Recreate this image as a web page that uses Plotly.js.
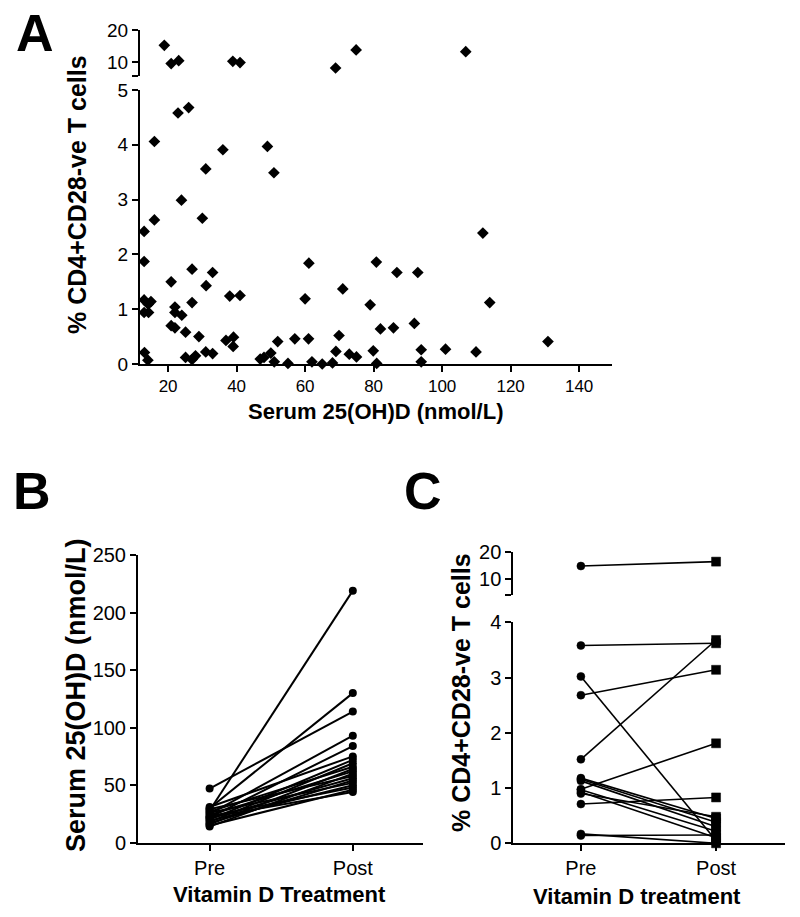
<!DOCTYPE html>
<html>
<head>
<meta charset="utf-8">
<script src="https://cdn.plot.ly/plotly-3.0.1.min.js"></script>
<style>html,body{margin:0;padding:0;background:#fff;}#plot{width:800px;height:917px;}</style>
</head>
<body>
<div id="plot"></div>
<script>
// Panel A: serum 25(OH)D vs % CD4+CD28-ve T cells
const aVitD = [18.9,20.9,23.1,38.9,41.0,68.9,74.9,106.9,
  16.0,22.9,26.0,31.0,36.0,49.0,50.9,
  23.9,13.0,16.0,30.0,
  13.0,20.9,27.0,33.0,31.1,38.0,41.0,61.1,60.0,71.0,80.8,86.8,92.9,79.0,111.9,113.9,
  13.0,15.0,14.2,13.0,14.3,22.0,22.0,27.0,
  20.9,22.0,24.0,25.1,29.0,36.9,39.1,39.0,
  82.0,85.8,91.9,
  13.1,14.1,25.1,27.0,28.0,31.0,33.0,
  46.9,48.0,50.0,51.0,52.0,55.0,57.0,61.0,62.0,65.0,68.0,69.0,69.9,72.9,75.0,79.9,80.9,
  93.9,101.0,109.9,93.9,130.9];
const aCells = [15.2,9.5,10.4,10.2,9.8,8.1,13.75,13.2,
  4.06,4.58,4.68,3.56,3.91,3.97,3.49,
  2.99,2.42,2.63,2.66,
  1.87,1.50,1.73,1.67,1.43,1.24,1.25,1.84,1.19,1.37,1.86,1.67,1.67,1.08,2.39,1.12,
  1.17,1.14,1.09,0.94,0.94,1.04,0.94,1.12,
  0.70,0.66,0.89,0.58,0.50,0.43,0.49,0.32,
  0.64,0.66,0.74,
  0.21,0.07,0.12,0.08,0.15,0.22,0.19,
  0.09,0.12,0.20,0.04,0.41,0.01,0.46,0.46,0.04,0.00,0.02,0.23,0.52,0.18,0.13,0.24,0.01,
  0.26,0.27,0.22,0.04,0.41];
const aXTicks = [20,40,60,80,100,120,140];
const aYTicksLow = [0,1,2,3,4,5];
const aYTicksHigh = [10,20];

// Panel B: serum 25(OH)D before/after vitamin D treatment
const bCategories = ['Pre','Post'];
const bPre  = [28,30,47,25,22,31,20,18,27,16,24,14,29,21,17,26,19,23,15,22];
const bPost = [219,130,114,93,84,75,72,69,66,64,62,60,58,56,54,52,50,48,46,44];
const bYTicks = [0,50,100,150,200,250];

// Panel C: % CD4+CD28-ve T cells before/after vitamin D treatment
const cCategories = ['Pre','Post'];
const cPre  = [14.8,3.58,1.52,2.68,3.02,0.98,0.71,0.14,0.17,1.18,1.16,1.13,0.97,0.93,0.90];
const cPost = [16.4,3.62,3.68,3.14,0.05,1.81,0.83,0.15,0.00,0.45,0.38,0.30,0.22,0.10,0.48];
const cYTicksLow = [0,1,2,3,4];
const cYTicksHigh = [10,20];

const FONT = 'Liberation Sans, Arial, sans-serif';
const BLACK = '#000';
const traces = [];

// A: split points between the broken-axis segments
const lowX=[],lowY=[],hiX=[],hiY=[];
aVitD.forEach((v,i)=>{ if(aCells[i]>5){hiX.push(v);hiY.push(aCells[i]);} else {lowX.push(v);lowY.push(aCells[i]);} });
const diamond = {symbol:'diamond', size:9, color:BLACK, opacity:1, line:{width:0}};
traces.push({type:'scatter',mode:'markers',x:lowX,y:lowY,xaxis:'x',yaxis:'y',marker:diamond,cliponaxis:false,showlegend:false});
traces.push({type:'scatter',mode:'markers',x:hiX,y:hiY,xaxis:'x',yaxis:'y2',marker:diamond,cliponaxis:false,showlegend:false});

// B
bPre.forEach((p,i)=>{
  traces.push({type:'scatter',mode:'lines+markers',x:[0,1],y:[p,bPost[i]],xaxis:'x2',yaxis:'y3',
    line:{color:BLACK,width:2},marker:{symbol:'circle',size:8,color:BLACK,opacity:1,line:{width:0}},cliponaxis:false,showlegend:false});
});

// C
cPre.forEach((p,i)=>{
  const q=cPost[i];
  const ya = (p>4 && q>4) ? 'y5' : 'y4';
  traces.push({type:'scatter',mode:'lines+markers',x:[0,1],y:[p,q],xaxis:'x3',yaxis:ya,opacity:1,
    line:{color:BLACK,width:1.6},marker:{symbol:['circle','square'],size:[8,9],color:BLACK,opacity:1,line:{color:BLACK,width:0.5}},
    cliponaxis:false,showlegend:false});
});

const H=917, W=800;
const fy = py => 1 - py/H;
const fx = px => px/W;
const axBase = {showline:true,linecolor:BLACK,linewidth:2,ticks:'outside',ticklen:6,tickwidth:2,tickcolor:BLACK,
  showgrid:false,zeroline:false,fixedrange:true,tickfont:{family:FONT,size:19,color:BLACK}};
const ann = (text,px,py,size,angle)=>({text:text,x:fx(px),y:fy(py),xref:'paper',yref:'paper',xanchor:'center',yanchor:'middle',
  showarrow:false,textangle:angle||0,font:{family:FONT,size:size,color:BLACK}});

const layout = {
  width:W,height:H,margin:{l:0,r:0,t:0,b:0},paper_bgcolor:'#fff',plot_bgcolor:'rgba(0,0,0,0)',
  showlegend:false,font:{family:FONT,color:BLACK},
  xaxis:Object.assign({},axBase,{domain:[fx(140),fx(612)],range:[11.8,149.6],anchor:'y',tickmode:'array',tickvals:aXTicks,
    tickfont:{family:FONT,size:17,color:BLACK}}),
  yaxis:Object.assign({},axBase,{domain:[fy(364),fy(90)],range:[0,5],anchor:'x',tickmode:'array',tickvals:aYTicksLow}),
  yaxis2:Object.assign({},axBase,{domain:[fy(76),fy(30)],range:[5.6,20],anchor:'x',tickmode:'array',
    tickvals:[5.6].concat(aYTicksHigh),ticktext:[''].concat(aYTicksHigh.map(String))}),
  xaxis2:Object.assign({},axBase,{domain:[fx(138),fx(423)],range:[-0.5,1.49],anchor:'y3',tickmode:'array',tickvals:[0,1],ticktext:bCategories,
    tickfont:{family:FONT,size:20,color:BLACK}}),
  yaxis3:Object.assign({},axBase,{domain:[fy(842.7),fy(555)],range:[0,250],anchor:'x2',tickmode:'array',tickvals:bYTicks,
    tickfont:{family:FONT,size:20,color:BLACK}}),
  xaxis3:Object.assign({},axBase,{domain:[fx(513.3),fx(785)],range:[-0.5,1.51],anchor:'y4',tickmode:'array',tickvals:[0,1],ticktext:cCategories,
    tickfont:{family:FONT,size:20,color:BLACK}}),
  yaxis4:Object.assign({},axBase,{domain:[fy(843.3),fy(622.3)],range:[0,4],anchor:'x3',tickmode:'array',tickvals:cYTicksLow,
    tickfont:{family:FONT,size:20,color:BLACK}}),
  yaxis5:Object.assign({},axBase,{domain:[fy(595),fy(551.7)],range:[4.3,20],anchor:'x3',tickmode:'array',
    tickvals:[4.3].concat(cYTicksHigh),ticktext:[''].concat(cYTicksHigh.map(String)),tickfont:{family:FONT,size:20,color:BLACK}}),
  annotations:[
    ann('<b>A</b>',35,33,52),
    ann('<b>B</b>',32,491,52),
    ann('<b>C</b>',423,491,52),
    ann('<b>% CD4+CD28-ve T cells</b>',77,195,25,-90),
    ann('<b>Serum 25(OH)D (nmol/L)</b>',375,411,22),
    ann('<b>Serum 25(OH)D (nmol/L)</b>',76,695,27,-90),
    ann('<b>Vitamin D Treatment</b>',279,894,22),
    ann('<b>% CD4+CD28-ve T cells</b>',461,693,25,-90),
    ann('<b>Vitamin D treatment</b>',637,896,22)
  ]
};
Plotly.newPlot('plot',traces,layout,{displayModeBar:false,staticPlot:true});
</script>
</body>
</html>
